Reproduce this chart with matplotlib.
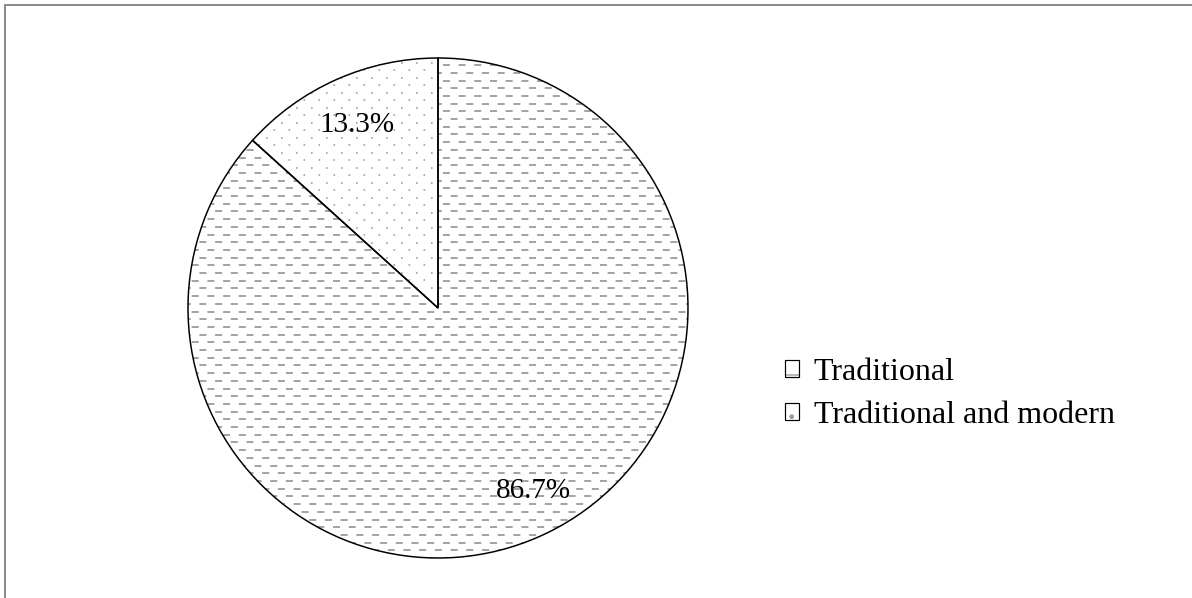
import matplotlib

matplotlib.use("Agg")
import matplotlib.pyplot as plt
import matplotlib.patches as mpatches
import matplotlib.transforms as mtransforms
import numpy as np

# --- data ------------------------------------------------------------------ #
labels = ["Traditional", "Traditional and modern"]
shares = [86.7, 13.3]

W, H, DPI = 1192, 598, 100
CX, CY, R = 438, 308, 250          # pie centre / radius in pixels (from top)
PX = 1.0 / R                        # one pixel in data units
PT = 72.0 / DPI                     # one pixel in points
GREY = "#9a9a9a"

plt.rcParams["font.family"] = ["Liberation Serif", "DejaVu Serif"]
plt.rcParams["lines.scale_dashes"] = False
plt.rcParams["hatch.linewidth"] = 1.0
plt.rcParams["hatch.color"] = GREY

fig = plt.figure(figsize=(W / DPI, H / DPI), dpi=DPI)

# grey frame along the top and left edge
fig.add_artist(mpatches.Rectangle((5 / W, -0.1), 1.2, 1 - 5 / H + 0.1,
                                  transform=fig.transFigure, fill=False,
                                  edgecolor="#8c8c8c", lw=2 * PT))

ax = fig.add_axes([(CX - R) / W, (H - CY - R) / H, 2 * R / W, 2 * R / H])
wedges, _, autotexts = ax.pie(
    shares, startangle=90, counterclock=False, autopct="%.1f%%",
    pctdistance=0.8, colors=["white", "white"],
    wedgeprops=dict(edgecolor="black", linewidth=1.5 * PT),
    textprops=dict(fontsize=21, color="black"))
ax.set_xlim(-1, 1)
ax.set_ylim(-1, 1)
ax.set_aspect("equal")

# white fill behind the textures, outline on top
for w in wedges:
    bg = mpatches.Wedge(w.center, w.r, w.theta1, w.theta2, facecolor="white",
                        edgecolor="none", zorder=0.1)
    ax.add_patch(bg)
    w.set_facecolor("none")
    w.set_zorder(1)

# texture for the big slice: staggered rows of short grey dashes
for i, y in enumerate(np.arange(-1, 1, 7.7 * PX)):
    off = 0 if i % 2 == 0 else 8
    ln, = ax.plot([-1.05, 1.05], [y, y], color=GREY, lw=1.8 * PT,
                  linestyle=(off * PT, (7 * PT, 8.7 * PT)), zorder=0.5)
    ln.set_clip_path(wedges[0])

# texture for the small slice: staggered grey dots
for i, y in enumerate(np.arange(-1, 1, 7.5 * PX)):
    off = 0 if i % 2 == 0 else 7.5
    ln, = ax.plot([-1.05, 1.05], [y, y], color=GREY, lw=1.6 * PT,
                  linestyle=(off * PT, (1.6 * PT, 13.4 * PT)), zorder=0.5)
    ln.set_clip_path(wedges[1])

for t in autotexts:
    t.set_zorder(3)
# the big slice's label sits a little further round towards the edge
autotexts[0].set_transform(ax.transData + mtransforms.ScaledTranslation(
    14 / DPI, 0, fig.dpi_scale_trans))

handles = [
    mpatches.Patch(facecolor="white", edgecolor="black", hatch="-", lw=1.2 * PT),
    mpatches.Patch(facecolor="white", edgecolor="black", hatch=".", lw=1.2 * PT),
]
for h in handles:
    h._hatch_color = matplotlib.colors.to_rgba(GREY)
fig.legend(handles, labels, loc="center left",
           bbox_to_anchor=(785 / W, 1 - 394 / H), frameon=False,
           fontsize=23, handlelength=0.45, handleheight=0.45,
           handletextpad=0.45, labelspacing=0.42, borderpad=0,
           borderaxespad=0)

fig.savefig("out.png", dpi=DPI)
